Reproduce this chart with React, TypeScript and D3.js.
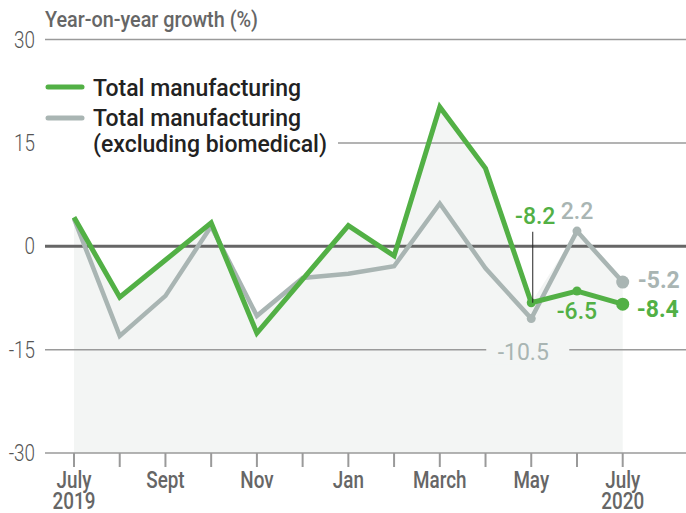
import React from 'react';
import * as d3 from 'd3';

const months = ['2019-07', '2019-08', '2019-09', '2019-10', '2019-11', '2019-12', '2020-01', '2020-02', '2020-03', '2020-04', '2020-05', '2020-06', '2020-07'];
const monthLabels = ['July', '', 'Sept', '', 'Nov', '', 'Jan', '', 'March', '', 'May', '', 'July'];
const yearLabels = ['2019', '', '', '', '', '', '', '', '', '', '', '', '2020'];
const totalMfg = [4.2, -7.4, -2.0, 3.4, -12.6, -4.8, 3.0, -1.4, 20.2, 11.3, -8.2, -6.5, -8.4];
const exBiomed = [4.0, -13.0, -7.2, 2.9, -10.1, -4.6, -4.0, -2.9, 6.2, -3.2, -10.5, 2.2, -5.2];
const yTicks = [30, 15, 0, -15, -30];

const W = 686;
const H = 513;
const GREEN = '#52b045';
const GRAY = '#a9b5b3';
const FILL = '#f3f5f4';
const TEXT = '#666';
const SANS = "'Roboto', 'Noto Sans', sans-serif";

// Roboto squeezed sideways stands in for the condensed face of the original
const Narrow = ({
  x,
  y,
  anchor = 'start',
  size = 22,
  weight = 400,
  fill = TEXT,
  children,
}: {
  x: number;
  y: number;
  anchor?: 'start' | 'middle' | 'end';
  size?: number;
  weight?: number;
  fill?: string;
  children: React.ReactNode;
}) => (
  <text
    transform={`translate(${x},${y}) scale(0.82,1)`}
    textAnchor={anchor}
    fontFamily={SANS}
    fontSize={size}
    fontWeight={weight}
    fill={fill}
  >
    {children}
  </text>
);

const App = () => {
  const x = d3.scalePoint<string>().domain(months).range([74, 622.7]);
  const y = d3.scaleLinear().domain([-30, 30]).range([453, 39.5]);
  const px = (i: number) => x(months[i]) as number;

  const line = d3
    .line<number>()
    .x((_, i) => px(i))
    .y((d) => y(d));

  const area = d3
    .area<number>()
    .x((_, i) => px(i))
    .y0(y(-30))
    .y1((d) => y(d));
  const top = totalMfg.map((v, i) => Math.max(v, exBiomed[i]));

  const last = months.length - 1;
  const may = 10;
  const jun = 11;

  return (
    <svg width={W} height={H} style={{ position: 'absolute', left: 0, top: 0 }}>
      <path d={area(top) ?? ''} fill={FILL} />

      {yTicks.map((t) => (
        <g key={t}>
          <line
            x1={45}
            x2={W}
            y1={y(t)}
            y2={y(t)}
            stroke={t === 0 ? '#666' : '#9a9a9a'}
            strokeWidth={t === 0 ? 3 : 1.5}
          />
          <Narrow x={35} y={y(t) + 8} anchor="end" size={23} weight={300} fill="#555">
            {t}
          </Narrow>
        </g>
      ))}

      {months.map((m, i) => (
        <g key={m}>
          <line x1={px(i)} x2={px(i)} y1={y(-30)} y2={y(-30) + 14} stroke="#9a9a9a" strokeWidth={2} />
          {monthLabels[i] && (
            <Narrow x={px(i)} y={488} anchor="middle" size={23} weight={500}>
              {monthLabels[i]}
            </Narrow>
          )}
          {yearLabels[i] && (
            <Narrow x={px(i)} y={509} anchor="middle" size={23} weight={500}>
              {yearLabels[i]}
            </Narrow>
          )}
        </g>
      ))}

      <text
        x={45}
        y={27}
        fontFamily={SANS}
        fontSize={22}
        fontWeight={500}
        fill={TEXT}
        textLength={213}
        lengthAdjust="spacingAndGlyphs"
      >
        Year-on-year growth (%)
      </text>

      {/* legend */}
      <rect x={40} y={70} width={298} height={90} fill="#fff" />
      <line x1={48} x2={82} y1={87} y2={87} stroke={GREEN} strokeWidth={5} strokeLinecap="round" />
      <text x={93} y={96} fontFamily={SANS} fontSize={23} fontWeight={500} fill="#222">
        Total manufacturing
      </text>
      <line x1={48} x2={82} y1={118} y2={118} stroke={GRAY} strokeWidth={5} strokeLinecap="round" />
      <text x={93} y={126} fontFamily={SANS} fontSize={23} fontWeight={500} fill="#222">
        Total manufacturing
      </text>
      <text x={93} y={152} fontFamily={SANS} fontSize={23} fontWeight={500} fill="#222">
        (excluding biomedical)
      </text>

      {/* lines */}
      <path d={line(exBiomed) ?? ''} fill="none" stroke={GRAY} strokeWidth={4.5} />
      <path d={line(totalMfg) ?? ''} fill="none" stroke={GREEN} strokeWidth={5} />

      {[may, jun, last].map((i) => (
        <g key={i}>
          <circle cx={px(i)} cy={y(exBiomed[i])} r={i === last ? 6.5 : 4.5} fill={GRAY} />
          <circle cx={px(i)} cy={y(totalMfg[i])} r={i === last ? 6.5 : 4.5} fill={GREEN} />
        </g>
      ))}

      {/* annotations */}
      <line
        x1={px(may) + 1.5}
        x2={px(may) + 1.5}
        y1={y(totalMfg[may]) - 71}
        y2={y(totalMfg[may])}
        stroke="#222"
        strokeWidth={1}
      />
      <text x={px(may) + 4} y={y(totalMfg[may]) - 79} textAnchor="middle" fontFamily={SANS} fontSize={23} fontWeight={500} fill={GREEN}>
        {totalMfg[may]}
      </text>
      <text x={px(jun)} y={y(exBiomed[jun]) - 12} textAnchor="middle" fontFamily={SANS} fontSize={23} fontWeight={500} fill={GRAY}>
        {exBiomed[jun]}
      </text>
      <text x={px(jun)} y={y(totalMfg[jun]) + 28} textAnchor="middle" fontFamily={SANS} fontSize={23} fontWeight={500} fill={GREEN}>
        {totalMfg[jun]}
      </text>
      <rect x={px(may) - 45} y={y(exBiomed[may]) + 20} width={83} height={26} fill={FILL} />
      <text x={px(may) - 8} y={y(exBiomed[may]) + 41} textAnchor="middle" fontFamily={SANS} fontSize={23} fill={GRAY}>
        {exBiomed[may]}
      </text>
      <text x={px(last) + 15} y={y(exBiomed[last]) + 6} fontFamily={SANS} fontSize={23} fontWeight={700} fill={GRAY}>
        {exBiomed[last]}
      </text>
      <text x={px(last) + 14} y={y(totalMfg[last]) + 13} fontFamily={SANS} fontSize={23} fontWeight={700} fill={GREEN}>
        {totalMfg[last]}
      </text>
    </svg>
  );
};

export default App;
